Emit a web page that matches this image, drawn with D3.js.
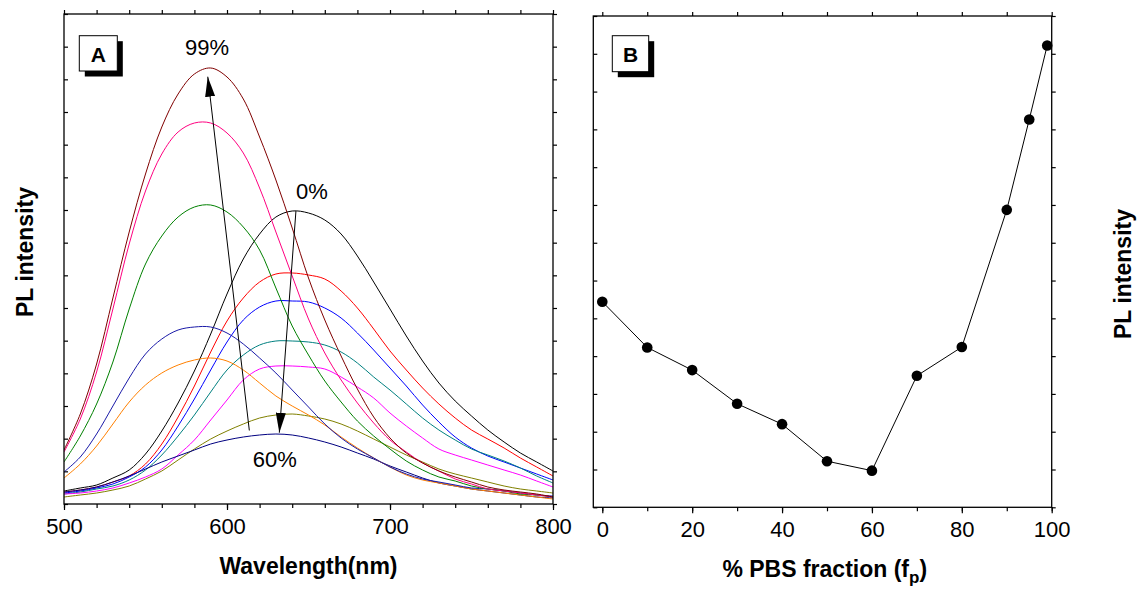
<!DOCTYPE html>
<html>
<head>
<meta charset="utf-8">
<script src="https://cdn.jsdelivr.net/npm/d3@7"></script>
<style>
  body { margin: 0; background: #fff; }
  svg { display: block; }
  text { font-family: "Liberation Sans", Arial, sans-serif; fill: #000; }
</style>
</head>
<body>
<svg id="chart" width="1138" height="590"></svg>
<script>
// ---------- Panel A: PL spectra at different PBS fractions ----------
const wavelengths = d3.range(500, 801, 10);
const pl0  = [13,16,19,26,34,50,73,101,133,170,210,245,270,287,293,291,284,270,248,222,195,168,143,121,103,88,74,62,51,42,33];
const pl10 = [12,14,17,22,28,40,60,87,118,152,183,206,222,230,231,229,225,213,196,175,153,134,116,100,86,74,65,56,46,37,28];
const pl20 = [11,13,16,20,27,37,54,78,105,134,162,184,197,203,203,202,196,186,171,154,136,118,99,82,67,56,48,42,36,30,24];
const pl30 = [10,12,15,18,24,34,49,68,89,112,134,149,159,163,163,162,159,152,141,127,114,100,86,74,64,55,49,43,36,28,21];
const pl40 = [10,11,13,16,21,27,35,49,64,84,104,124,135,138,138,137,135,127,117,106,91,78,66,55,49,44,39,34,29,23,17];
const pl50 = [7,9,11,14,18,25,33,44,55,65,73,80,86,89,90,88,85,80,73,65,57,49,42,35,30,26,22,18,15,13,11];
const pl60 = [12,14,17,22,28,35,42,48,54,60,64,67,69,70,69,66,62,57,51,45,38,32,26,21,18,15,13,11,9,7,6];
const pl70 = [26,40,58,80,102,119,131,139,144,146,143,134,121,108,98,89,79,67,56,46,37,29,24,21,18,15,13,11,9,7,5];
const pl80 = [32,47,70,98,126,150,165,174,177,177,171,160,146,131,114,97,80,66,55,46,37,30,25,22,19,16,15,13,11,9,8];
const pl90 = [42,68,100,142,195,240,268,287,297,299,292,277,254,216,178,149,123,102,83,68,55,43,34,27,23,18,15,13,10,9,7];
const pl95 = [52,85,132,195,260,313,350,372,381,381,371,351,316,272,228,185,151,124,101,81,64,52,41,33,25,20,15,13,11,9,7];
const pl99 = [54,90,140,206,272,330,377,410,430,436,427,405,367,324,276,226,184,148,115,87,66,51,41,33,27,22,17,14,12,10,7];

const spectra = [pl0, pl10, pl20, pl30, pl40, pl50, pl60, pl70, pl80, pl90, pl95, pl99];
const spectrumColors = ["#000000", "#ff0000", "#0000ff", "#008080", "#ff00ff", "#808000",
                        "#000080", "#ff8000", "#1a1aa8", "#008000", "#ff0080", "#800000"];
const wavelengthTicks = [500, 600, 700, 800];

// ---------- Panel B: PL intensity vs PBS fraction ----------
const pbsFraction = [0, 10, 20, 30, 40, 50, 60, 70, 80, 90, 95, 99];
const plIntensity = [5.44, 4.23, 3.63, 2.74, 2.20, 1.22, 0.97, 3.48, 4.24, 7.87, 10.26, 12.22];
const fractionTicks = [0, 20, 40, 60, 80, 100];

const svg = d3.select("#chart");

// ---------- scales ----------
const xA = d3.scaleLinear().domain([500, 800]).range([64, 553]);
const yA = d3.scaleLinear().domain([0, 490]).range([504, 14]);
const xB = d3.scaleLinear().domain([-2, 100]).range([593.3, 1051.7]);
const yB = d3.scaleLinear().domain([0, 13]).range([507.3, 16]);

function styleAxis(g) {
  g.select(".domain").remove();
  g.selectAll(".tick line").attr("stroke", "#000").attr("stroke-width", 1.2);
  g.selectAll(".tick text").style("font-size", "22px").style("font-family", '"Liberation Sans", Arial, sans-serif');
}

function frame(x0, x1, y0, y1) {
  svg.append("rect")
    .attr("x", x0).attr("y", y0)
    .attr("width", x1 - x0).attr("height", y1 - y0)
    .attr("fill", "none").attr("stroke", "#000").attr("stroke-width", 1.3);
}

function panelTag(x, y, w, h, letter) {
  svg.append("rect").attr("x", x + 5.5).attr("y", y + 5.5).attr("width", w).attr("height", h).attr("fill", "#000");
  svg.append("rect").attr("x", x).attr("y", y).attr("width", w).attr("height", h)
    .attr("fill", "#fff").attr("stroke", "#000").attr("stroke-width", 1);
  svg.append("text").attr("x", x + w / 2).attr("y", y + 26)
    .attr("text-anchor", "middle").style("font-size", "21px").style("font-weight", "bold").text(letter);
}

// ================= Panel A =================
// bottom axis: minor every 20 nm, labelled every 100 nm
svg.append("g").attr("transform", "translate(0,504)")
  .call(d3.axisBottom(xA).tickValues(d3.range(500, 801, 20)).tickSize(4).tickFormat(""))
  .call(styleAxis);
svg.append("g").attr("transform", "translate(0,504)")
  .call(d3.axisBottom(xA).tickValues(wavelengthTicks).tickSize(6).tickPadding(8).tickFormat(d3.format("d")))
  .call(styleAxis);
svg.append("g").attr("transform", "translate(0,14)")
  .call(d3.axisTop(xA).tickValues(d3.range(500, 801, 20)).tickSize(4).tickFormat(""))
  .call(styleAxis);
const yTicksA = d3.range(0, 16).map(i => i * 490 / 15);
svg.append("g").attr("transform", "translate(64,0)")
  .call(d3.axisLeft(yA).tickValues(yTicksA).tickSize(-4).tickFormat(""))
  .call(styleAxis);
svg.append("g").attr("transform", "translate(553,0)")
  .call(d3.axisRight(yA).tickValues(yTicksA).tickSize(4).tickFormat(""))
  .call(styleAxis);

const lineA = d3.line()
  .x((d, i) => xA(wavelengths[i]))
  .y(d => yA(d))
  .curve(d3.curveCatmullRom.alpha(0.5));

const clipA = svg.append("clipPath").attr("id", "clipA");
clipA.append("rect").attr("x", 64).attr("y", 14).attr("width", 489).attr("height", 490);

svg.append("g").attr("clip-path", "url(#clipA)")
  .selectAll("path").data(spectra).join("path")
  .attr("d", lineA)
  .attr("fill", "none")
  .attr("stroke", (d, i) => spectrumColors[i])
  .attr("stroke-width", 1);

frame(64, 553, 14, 504);

// arrows showing the trend
const defs = svg.append("defs");
defs.append("marker").attr("id", "head")
  .attr("viewBox", "0 0 20 10").attr("refX", 20).attr("refY", 5)
  .attr("markerWidth", 20).attr("markerHeight", 10)
  .attr("markerUnits", "userSpaceOnUse").attr("orient", "auto")
  .append("path").attr("d", "M0,0 L20,5 L0,10 Z").attr("fill", "#000");

const arrows = [
  { from: [613.7, 73.5], to: [588.2, 427.3] },
  { from: [642.3, 293], to: [632.1, 71.3] }
];
svg.selectAll("line.arrow").data(arrows).join("line")
  .attr("class", "arrow")
  .attr("x1", d => xA(d.from[0])).attr("y1", d => yA(d.from[1]))
  .attr("x2", d => xA(d.to[0])).attr("y2", d => yA(d.to[1]))
  .attr("stroke", "#000").attr("stroke-width", 1)
  .attr("marker-end", "url(#head)");

const notes = [
  { text: "99%", x: 574.2, y: 449.5 },
  { text: "0%", x: 642.3, y: 304.7 },
  { text: "60%", x: 615.8, y: 36.7 }
];
svg.selectAll("text.note").data(notes).join("text")
  .attr("class", "note")
  .attr("x", d => xA(d.x)).attr("y", d => yA(d.y))
  .style("font-size", "22px")
  .text(d => d.text);

panelTag(79.3, 35.7, 38, 35.3, "A");

svg.append("text")
  .attr("x", xA(650)).attr("y", 574)
  .attr("text-anchor", "middle")
  .style("font-size", "23px").style("font-weight", "bold")
  .text("Wavelength(nm)");
svg.append("text")
  .attr("transform", "translate(33,252) rotate(-90)")
  .attr("text-anchor", "middle")
  .style("font-size", "23px").style("font-weight", "bold")
  .text("PL intensity");

// ================= Panel B =================
svg.append("g").attr("transform", "translate(0,507.3)")
  .call(d3.axisBottom(xB).tickValues(d3.range(0, 101, 10)).tickSize(4).tickFormat(""))
  .call(styleAxis);
svg.append("g").attr("transform", "translate(0,507.3)")
  .call(d3.axisBottom(xB).tickValues(fractionTicks).tickSize(6).tickPadding(8).tickFormat(d3.format("d")))
  .call(styleAxis);
svg.append("g").attr("transform", "translate(0,16)")
  .call(d3.axisTop(xB).tickValues(d3.range(0, 101, 10)).tickSize(4).tickFormat(""))
  .call(styleAxis);
const yTicksB = d3.range(0, 14);
svg.append("g").attr("transform", "translate(593.3,0)")
  .call(d3.axisLeft(yB).tickValues(yTicksB).tickSize(-4).tickFormat(""))
  .call(styleAxis);
svg.append("g").attr("transform", "translate(1051.7,0)")
  .call(d3.axisRight(yB).tickValues(yTicksB).tickSize(4).tickFormat(""))
  .call(styleAxis);

const lineB = d3.line()
  .x((d, i) => xB(pbsFraction[i]))
  .y(d => yB(d));

svg.append("path")
  .datum(plIntensity)
  .attr("d", lineB)
  .attr("fill", "none").attr("stroke", "#000").attr("stroke-width", 1);

svg.selectAll("circle.pt").data(plIntensity).join("circle")
  .attr("class", "pt")
  .attr("cx", (d, i) => xB(pbsFraction[i]))
  .attr("cy", d => yB(d))
  .attr("r", 5.3)
  .attr("fill", "#000");

frame(593.3, 1051.7, 16, 507.3);

panelTag(612.3, 35.7, 36.4, 36, "B");

const xTitleB = svg.append("text")
  .attr("x", xB(49.5)).attr("y", 577)
  .attr("text-anchor", "middle")
  .style("font-size", "23px").style("font-weight", "bold");
xTitleB.append("tspan").text("% PBS fraction (f");
xTitleB.append("tspan").attr("dy", 6).style("font-size", "17px").text("p");
xTitleB.append("tspan").attr("dy", -6).text(")");

svg.append("text")
  .attr("transform", "translate(1131,274) rotate(-90)")
  .attr("text-anchor", "middle")
  .style("font-size", "23px").style("font-weight", "bold")
  .text("PL intensity");
</script>
</body>
</html>
